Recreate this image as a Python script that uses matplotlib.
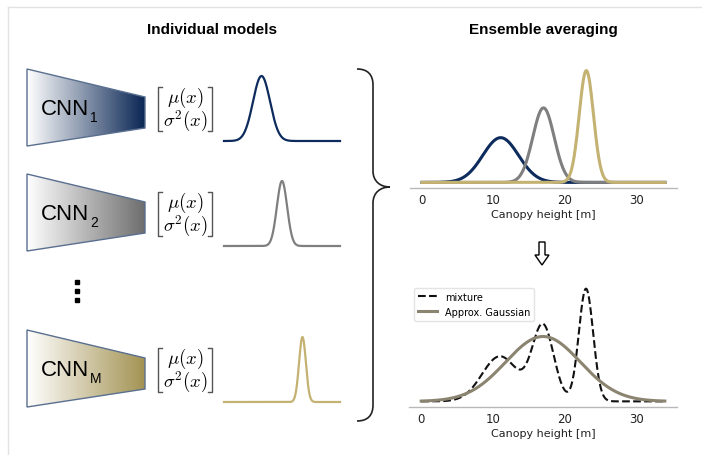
import numpy as np
import matplotlib
matplotlib.use("Agg")
import matplotlib.pyplot as plt
from matplotlib.patches import Polygon, PathPatch
from matplotlib.path import Path
from matplotlib.colors import LinearSegmentedColormap

# Ensemble members: predicted mean and standard deviation of canopy height [m]
model_names = ["1", "2", "M"]
means = [11.0, 17.0, 23.0]
sigmas = [2.5, 1.5, 1.0]
line_colors = ["#0d2b5c", "#7f7f7f", "#c4b272"]
fill_colors = ["#0a2654", "#6e6e6e", "#a39353"]
mixture_color = "#111111"
approx_color = "#8b8470"
x_ticks = [0, 10, 20, 30]
height_min, height_max = 0.0, 34.0

W, H = 702, 456
fig = plt.figure(figsize=(W / 100, H / 100), dpi=100)

# full-figure canvas in pixel units for the schematic parts
canvas = fig.add_axes([0, 0, 1, 1])
canvas.axis("off")


def normal_pdf(x, mu, s):
    return np.exp(-0.5 * ((x - mu) / s) ** 2) / (s * np.sqrt(2 * np.pi))


x = np.linspace(height_min, height_max, 600)
member_pdfs = [normal_pdf(x, m, s) for m, s in zip(means, sigmas)]
mixture = np.mean(member_pdfs, axis=0)
mu_bar = np.mean(means)
var_bar = np.mean(np.array(sigmas) ** 2 + np.array(means) ** 2) - mu_bar ** 2
approx = normal_pdf(x, mu_bar, np.sqrt(var_bar))

# frame
canvas.plot([8, W], [8, 8], color="#e2e2e2", lw=1)
canvas.plot([8, 8], [8, H], color="#e2e2e2", lw=1)

# headings
title_kw = dict(ha="center", va="center", fontsize=11, fontweight="bold",
                family="Liberation Sans")
canvas.text(212, 30, "Individual models", **title_kw)
canvas.text(543, 30, "Ensemble averaging", **title_kw)

block_tops = [70, 175, 331]
gradient = np.linspace(0, 1, 256).reshape(1, -1)

for name, top, fcol, lcol, mu, s in zip(model_names, block_tops, fill_colors,
                                          line_colors, means, sigmas):
    # network funnel with colour gradient
    pts = [(27, top), (145, top + 28), (145, top + 59), (27, top + 77)]
    poly = Polygon(pts, closed=True, facecolor="none", edgecolor="#5a6f8f",
                   lw=1.0, zorder=3)
    canvas.add_patch(poly)
    cmap = LinearSegmentedColormap.from_list("g" + name, ["#ffffff", fcol])
    im = canvas.imshow(gradient, cmap=cmap, aspect="auto",
                       extent=(27, 145, top + 77, top), zorder=2)
    im.set_clip_path(poly)

    main = canvas.text(41, top + 45, "CNN", fontsize=16, va="baseline",
                       family="Liberation Sans", zorder=4)
    canvas.annotate(name, xy=(1, 0), xycoords=main, xytext=(1, -5),
                    textcoords="offset pixels", fontsize=10, va="bottom",
                    family="Liberation Sans", zorder=4)

    # output vector brackets
    bt, bb = top + 18, top + 62
    canvas.plot([162, 158, 158, 162], [bt, bt, bb, bb], color="#555555", lw=1)
    canvas.plot([208, 212, 212, 208], [bt, bt, bb, bb], color="#555555", lw=1)
    canvas.text(185, top + 28, r"$\mu(x)$", ha="center", va="center",
                fontsize=13.5, math_fontfamily="cm")
    canvas.text(185, top + 51, r"$\sigma^2(x)$", ha="center", va="center",
                fontsize=13.5, math_fontfamily="cm")

    # predicted distribution of the member
    ax_m = fig.add_axes([224 / W, 1 - (top + 72) / H, 116 / W, 65 / H])
    ax_m.plot(x, normal_pdf(x, mu, s), color=lcol, lw=1.6, clip_on=False)
    ax_m.set_xlim(height_min, height_max)
    ax_m.set_ylim(0, normal_pdf(mu, mu, s))
    ax_m.axis("off")

# vertical ellipsis
canvas.plot([77, 77, 77], [283, 292, 301], "s", color="black", ms=2.8)

# curly brace
brace = Path(
    [(357, 70), (368, 70), (373, 76), (373, 86),
     (373, 172),
     (373, 182), (380, 188), (390, 188),
     (380, 188), (373, 194), (373, 204),
     (373, 406),
     (373, 416), (368, 422), (357, 422)],
    [Path.MOVETO, Path.CURVE4, Path.CURVE4, Path.CURVE4,
     Path.LINETO,
     Path.CURVE4, Path.CURVE4, Path.CURVE4,
     Path.CURVE4, Path.CURVE4, Path.CURVE4,
     Path.LINETO,
     Path.CURVE4, Path.CURVE4, Path.CURVE4])
canvas.add_patch(PathPatch(brace, facecolor="none", edgecolor="#222222", lw=1.2))

# hollow down arrow
arrow = Polygon([(539, 243), (545, 243), (545, 256), (549, 256), (542, 266),
                 (535, 256), (539, 256)], closed=True, facecolor="white",
                edgecolor="black", lw=1.0)
canvas.add_patch(arrow)

canvas.set_xlim(0, W)
canvas.set_ylim(H, 0)


def style_axis(ax):
    for side in ("top", "right", "left"):
        ax.spines[side].set_visible(False)
    ax.spines["bottom"].set_color("#b8b8b8")
    ax.spines["bottom"].set_linewidth(1.0)
    ax.set_yticks([])
    ax.set_xticks(x_ticks)
    ax.tick_params(axis="x", length=0, pad=3.5, labelsize=8.5, labelcolor="#222222")
    ax.set_xlabel("Canopy height [m]", fontsize=8, labelpad=2, color="#222222")
    ax.patch.set_alpha(0)


# members on a common axis
ax_top = fig.add_axes([410 / W, 1 - 189 / H, 267 / W, 123 / H])
for pdf, col in zip(member_pdfs, line_colors):
    ax_top.plot(x, pdf, color=col, lw=2.2)
style_axis(ax_top)

# mixture and its moment-matched Gaussian
ax_bot = fig.add_axes([409 / W, 1 - 408 / H, 268 / W, 124 / H])
ax_bot.plot(x, mixture, color=mixture_color, lw=1.5, ls="--", label="mixture")
ax_bot.plot(x, approx, color=approx_color, lw=2.2, label="Approx. Gaussian")
style_axis(ax_bot)
ax_bot.legend(loc="upper left", fontsize=7, frameon=True, edgecolor="#dddddd",
              handlelength=2.0)

fig.savefig("out.png", dpi=100)
